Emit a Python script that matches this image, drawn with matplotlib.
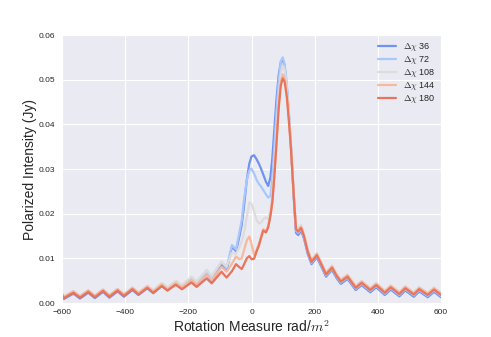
import matplotlib
matplotlib.use("Agg")
import matplotlib.pyplot as plt
import seaborn as sns

rm = [-600, -594, -564, -543, -517, -496, -470, -450, -424, -404, -377, -358, -330, -311,
      -284, -266, -240, -220, -190, -174, -142, -126, -95, -79, -62, -49, -38, -31, -24, -15,
      -7, 0, 8, 16, 24, 30, 37, 46, 53, 60, 66, 72, 79, 86, 93, 99, 105, 112, 118, 124, 130,
      136, 141, 148, 157, 166, 178, 190, 207, 222, 236, 255, 270, 283, 304, 330, 349, 376,
      395, 422, 441, 468, 487, 514, 531, 558, 578, 600]

pi_36 = [0.0016, 0.0009, 0.0021, 0.0010, 0.0023, 0.0011, 0.0025, 0.0012, 0.0026, 0.0014,
         0.0029, 0.0018, 0.0033, 0.0022, 0.0038, 0.0028, 0.0042, 0.0031, 0.0051, 0.0039,
         0.0064, 0.0048, 0.0085, 0.0072, 0.0126, 0.0116, 0.0150, 0.0175, 0.0215, 0.0275,
         0.0312, 0.0328, 0.0331, 0.0322, 0.0311, 0.0301, 0.0288, 0.0271, 0.0262, 0.0282,
         0.0325, 0.0385, 0.0455, 0.0510, 0.0540, 0.0545, 0.0530, 0.0482, 0.0426, 0.0362,
         0.0286, 0.0210, 0.0157, 0.0152, 0.0162, 0.0145, 0.0110, 0.0087, 0.0102, 0.0080,
         0.0059, 0.0074, 0.0055, 0.0043, 0.0054, 0.0029, 0.0040, 0.0024, 0.0035, 0.0018,
         0.0030, 0.0015, 0.0028, 0.0014, 0.0026, 0.0013, 0.0025, 0.0013]

pi_72 = [0.0020, 0.0013, 0.0025, 0.0014, 0.0027, 0.0015, 0.0029, 0.0016, 0.0030, 0.0018,
         0.0033, 0.0022, 0.0037, 0.0027, 0.0043, 0.0033, 0.0048, 0.0038, 0.0058, 0.0047,
         0.0073, 0.0059, 0.0091, 0.0078, 0.0130, 0.0120, 0.0160, 0.0185, 0.0230, 0.0275,
         0.0297, 0.0301, 0.0290, 0.0276, 0.0266, 0.0261, 0.0253, 0.0243, 0.0236, 0.0240,
         0.0280, 0.0345, 0.0425, 0.0495, 0.0542, 0.0550, 0.0535, 0.0488, 0.0430, 0.0365,
         0.0290, 0.0215, 0.0162, 0.0157, 0.0166, 0.0148, 0.0113, 0.0090, 0.0105, 0.0083,
         0.0062, 0.0077, 0.0058, 0.0046, 0.0057, 0.0032, 0.0043, 0.0027, 0.0038, 0.0021,
         0.0033, 0.0018, 0.0031, 0.0017, 0.0029, 0.0016, 0.0028, 0.0016]

pi_108 = [0.0022, 0.0015, 0.0027, 0.0016, 0.0029, 0.0017, 0.0031, 0.0018, 0.0032, 0.0020,
          0.0035, 0.0024, 0.0039, 0.0029, 0.0045, 0.0035, 0.0050, 0.0040, 0.0059, 0.0048,
          0.0074, 0.0061, 0.0093, 0.0082, 0.0112, 0.0110, 0.0125, 0.0138, 0.0156, 0.0192,
          0.0225, 0.0222, 0.0205, 0.0186, 0.0178, 0.0180, 0.0187, 0.0192, 0.0188, 0.0205,
          0.0245, 0.0305, 0.0385, 0.0460, 0.0515, 0.0532, 0.0522, 0.0480, 0.0425, 0.0365,
          0.0292, 0.0222, 0.0172, 0.0167, 0.0175, 0.0156, 0.0121, 0.0097, 0.0112, 0.0090,
          0.0069, 0.0084, 0.0065, 0.0053, 0.0064, 0.0039, 0.0050, 0.0034, 0.0045, 0.0028,
          0.0040, 0.0025, 0.0038, 0.0024, 0.0036, 0.0023, 0.0035, 0.0023]

pi_144 = [0.0021, 0.0014, 0.0026, 0.0015, 0.0028, 0.0016, 0.0030, 0.0017, 0.0031, 0.0019,
          0.0034, 0.0022, 0.0037, 0.0026, 0.0042, 0.0031, 0.0045, 0.0035, 0.0051, 0.0042,
          0.0063, 0.0051, 0.0081, 0.0070, 0.0088, 0.0104, 0.0098, 0.0100, 0.0117, 0.0140,
          0.0149, 0.0132, 0.0108, 0.0118, 0.0133, 0.0148, 0.0165, 0.0161, 0.0173, 0.0198,
          0.0230, 0.0286, 0.0362, 0.0443, 0.0497, 0.0512, 0.0504, 0.0468, 0.0417, 0.0360,
          0.0289, 0.0218, 0.0168, 0.0163, 0.0171, 0.0153, 0.0118, 0.0095, 0.0110, 0.0088,
          0.0067, 0.0082, 0.0063, 0.0051, 0.0062, 0.0037, 0.0048, 0.0032, 0.0043, 0.0026,
          0.0038, 0.0023, 0.0036, 0.0022, 0.0034, 0.0021, 0.0033, 0.0021]

pi_180 = [0.0018, 0.0011, 0.0023, 0.0012, 0.0025, 0.0013, 0.0027, 0.0014, 0.0028, 0.0016,
          0.0031, 0.0019, 0.0034, 0.0023, 0.0038, 0.0028, 0.0041, 0.0031, 0.0046, 0.0036,
          0.0055, 0.0044, 0.0070, 0.0057, 0.0071, 0.0087, 0.0080, 0.0076, 0.0086, 0.0100,
          0.0105, 0.0098, 0.0099, 0.0115, 0.0130, 0.0145, 0.0162, 0.0158, 0.0170, 0.0195,
          0.0225, 0.0280, 0.0355, 0.0435, 0.0488, 0.0503, 0.0495, 0.0460, 0.0410, 0.0355,
          0.0285, 0.0215, 0.0165, 0.0160, 0.0168, 0.0150, 0.0115, 0.0092, 0.0107, 0.0085,
          0.0064, 0.0079, 0.0060, 0.0048, 0.0059, 0.0034, 0.0045, 0.0029, 0.0040, 0.0023,
          0.0035, 0.0020, 0.0033, 0.0019, 0.0031, 0.0018, 0.0030, 0.0018]

labels = [r"$\Delta\chi$ 36", r"$\Delta\chi$ 72", r"$\Delta\chi$ 108",
          r"$\Delta\chi$ 144", r"$\Delta\chi$ 180"]
series = [pi_36, pi_72, pi_108, pi_144, pi_180]

sns.set_style("darkgrid")
plt.rcParams['font.family'] = ['Liberation Sans', 'DejaVu Sans']
plt.rcParams['mathtext.fontset'] = 'cm'

colors = sns.color_palette("coolwarm", 5)

fig = plt.figure(figsize=(4.91, 3.37), dpi=100)
ax = fig.add_axes([62 / 491, 34 / 337, 379 / 491, 268 / 337])

for ys, lab, c in zip(series, labels, colors):
    ax.plot(rm, ys, color=c, lw=1.6, label=lab, solid_joinstyle='round')

ax.set_xlim(-600, 600)
ax.set_ylim(0, 0.06)
ax.set_xticks([-600, -400, -200, 0, 200, 400, 600])
ax.set_yticks([0.0, 0.01, 0.02, 0.03, 0.04, 0.05, 0.06])
ax.set_yticklabels(["0.00", "0.01", "0.02", "0.03", "0.04", "0.05", "0.06"])
ax.tick_params(axis='both', labelsize=6, colors='#262626', length=0)
ax.tick_params(axis='y', pad=5)
ax.tick_params(axis='x', pad=4)

ax.set_xlabel(r"Rotation Measure rad/$m^2$", fontsize=10, color='#262626', labelpad=3)
ax.set_ylabel("Polarized Intensity (Jy)", fontsize=10, color='#262626', labelpad=1)

leg = ax.legend(loc='upper right', fontsize=6.5, frameon=False,
                handlelength=2.0, labelspacing=0.12,
                borderaxespad=0.25, handletextpad=0.7)

fig.savefig("out.png", dpi=100)
